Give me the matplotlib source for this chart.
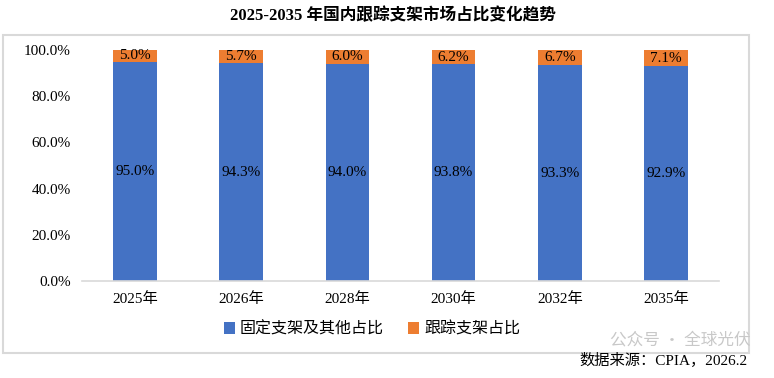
import matplotlib.pyplot as plt
from matplotlib.patches import Rectangle

plt.rcParams['font.family'] = ['Liberation Serif', 'Noto Sans CJK SC']

years = ['2025年', '2026年', '2028年', '2030年', '2032年', '2035年']
fixed = [95.0, 94.3, 94.0, 93.8, 93.3, 92.9]
tracking = [5.0, 5.7, 6.0, 6.2, 6.7, 7.1]
yticks = [0, 20, 40, 60, 80, 100]

blue = '#4472C4'
orange = '#ED7D31'

fig = plt.figure(figsize=(7.74, 3.78), dpi=100)

# outer chart frame
fig.patches.append(Rectangle((3 / 774, 1 - 353 / 378), 746 / 774, 318 / 378,
                             transform=fig.transFigure, fill=False,
                             edgecolor='#D9D9D9', linewidth=1.5))

fig.text(393 / 774, 1 - 16 / 378, '2025-2035 年国内跟踪支架市场占比变化趋势',
         ha='center', va='center', fontsize=12, fontweight='bold')

ax = fig.add_axes([82 / 774, 1 - 281 / 378, 637 / 774, 231 / 378])
x = range(len(years))
b1 = ax.bar(x, fixed, width=0.41, color=blue)
b2 = ax.bar(x, tracking, width=0.41, bottom=fixed, color=orange)

for i in x:
    ax.text(i, fixed[i] / 2, f'{fixed[i]:.1f}%', ha='center', va='center', fontsize=11)
    ax.text(i, fixed[i] + tracking[i] / 2, f'{tracking[i]:.1f}%', ha='center',
            va='center', fontsize=11)

ax.set_xlim(-0.5, len(years) - 0.5)
ax.set_ylim(0, 100)
ax.set_yticks(yticks)
ax.set_yticklabels([f'{v:.1f}%' for v in yticks], fontsize=11)
ax.set_xticks(list(x))
ax.set_xticklabels(years, fontsize=11)
ax.tick_params(length=0, pad=8)
for s in ['top', 'right', 'left']:
    ax.spines[s].set_visible(False)
ax.spines['bottom'].set_color('#D9D9D9')
ax.spines['bottom'].set_linewidth(1.2)

leg = fig.legend([b1, b2], ['固定支架及其他占比', '跟踪支架占比'],
                 loc='center', bbox_to_anchor=(372 / 774, 1 - 329 / 378),
                 ncol=2, frameon=False, handlelength=0.7, handleheight=0.7,
                 handletextpad=0.3, columnspacing=1.5,
                 prop={'family': 'Noto Sans CJK SC', 'size': 11.5})

fig.text(680 / 774, 1 - 340 / 378, '公众号 · 全球光伏', ha='center', va='center',
         fontsize=12, color='#C8C8C8', family='Noto Sans CJK SC')
fig.text(748 / 774, 1 - 360 / 378, '数据来源：CPIA，2026.2', ha='right', va='center',
         fontsize=11)

fig.savefig('out.png', dpi=100)
